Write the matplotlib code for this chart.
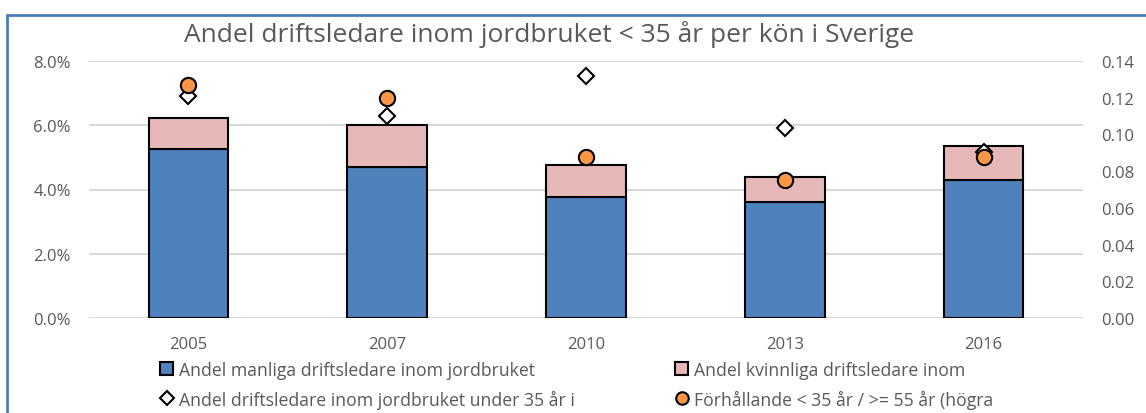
import matplotlib
matplotlib.use("Agg")
import matplotlib.pyplot as plt
from matplotlib.patches import Patch, Rectangle
from matplotlib.lines import Line2D
from matplotlib.ticker import PercentFormatter, FormatStrFormatter

plt.rcParams['font.family'] = ['Open Sans', 'DejaVu Sans']

years = ["2005", "2007", "2010", "2013", "2016"]
# andel (%) manliga / kvinnliga driftsledare under 35 år
male = [5.26, 4.71, 3.78, 3.60, 4.30]
female = [0.95, 1.29, 0.98, 0.78, 1.04]
# andel driftsledare under 35 år (%)
under35 = [6.91, 6.27, 7.53, 5.91, 5.15]
# förhållande < 35 år / >= 55 år (högra axeln)
ratio = [0.127, 0.120, 0.0875, 0.0752, 0.0875]

txt = '#595959'
blue = '#4F81BD'
pink = '#E6B9B8'
orange = '#F79646'

fig = plt.figure(figsize=(11.46, 4.14), dpi=100)
ax = fig.add_axes([89/1146, 94.7/414, (1083-89)/1146, 257.6/414])

x = list(range(len(years)))
ax.bar(x, male, width=0.40, color=blue, edgecolor='black', linewidth=1.5, zorder=3)
ax.bar(x, female, width=0.40, bottom=male, color=pink, edgecolor='black', linewidth=1.5, zorder=3)
ax.plot(x, under35, linestyle='none', marker='D', markersize=8, markerfacecolor='white',
        markeredgecolor='black', markeredgewidth=1.5, zorder=4)

ax.set_ylim(0, 8)
ax.set_xlim(-0.5, 4.5)
ax.set_yticks([0, 2, 4, 6, 8])
ax.yaxis.set_major_formatter(PercentFormatter(xmax=100, decimals=1))
ax.set_xticks(x)
ax.set_xticklabels(years)
ax.grid(axis='y', color='#d9d9d9', linewidth=1.5, zorder=0)
ax.set_axisbelow(True)
for s in ax.spines.values():
    s.set_visible(False)
ax.tick_params(axis='both', length=0, labelsize=12, colors=txt)
ax.tick_params(axis='x', pad=13)
ax.tick_params(axis='y', pad=13)

ax2 = ax.twinx()
ax2.plot(x, ratio, linestyle='none', marker='o', markersize=11, markerfacecolor=orange,
         markeredgecolor='black', markeredgewidth=1.5, zorder=5)
ax2.set_ylim(0, 0.14)
ax2.set_yticks([0, 0.02, 0.04, 0.06, 0.08, 0.10, 0.12, 0.14])
ax2.yaxis.set_major_formatter(FormatStrFormatter('%.2f'))
for s in ax2.spines.values():
    s.set_visible(False)
ax2.tick_params(axis='y', length=0, labelsize=12, colors=txt, pad=13)

fig.text(549/1146, (414-41.7)/414, "Andel driftsledare inom jordbruket < 35 år per kön i Sverige",
         ha='center', va='baseline', fontsize=19, color=txt)

# ram runt diagrammet
fig.patches.append(Rectangle((7/1146, -0.1), 1.2, (414-15.7)/414 + 0.1, transform=fig.transFigure,
                             fill=False, edgecolor='#4A7EBB', linewidth=2))

h1 = [Patch(facecolor=blue, edgecolor='black', linewidth=1.5),
      Line2D([], [], linestyle='none', marker='D', markersize=7, markerfacecolor='white',
             markeredgecolor='black', markeredgewidth=1.5)]
l1 = ["Andel manliga driftsledare inom jordbruket",
      "Andel driftsledare inom jordbruket under 35 år i"]
h2 = [Patch(facecolor=pink, edgecolor='black', linewidth=1.5),
      Line2D([], [], linestyle='none', marker='o', markersize=9, markerfacecolor=orange,
             markeredgecolor='black', markeredgewidth=1.5)]
l2 = ["Andel kvinnliga driftsledare inom",
      "Förhållande < 35 år / >= 55 år (högra"]

for hs, ls, xpos in [(h1, l1, 160), (h2, l2, 675)]:
    leg = fig.legend(hs, ls, loc='center left', bbox_to_anchor=(xpos/1146, (414-385.9)/414),
                     frameon=False, fontsize=12.7, handlelength=0.75, handleheight=0.75,
                     handletextpad=0.35, labelspacing=0.6, borderpad=0, borderaxespad=0)
    for t in leg.get_texts():
        t.set_color(txt)

fig.savefig("out.png", dpi=100)
